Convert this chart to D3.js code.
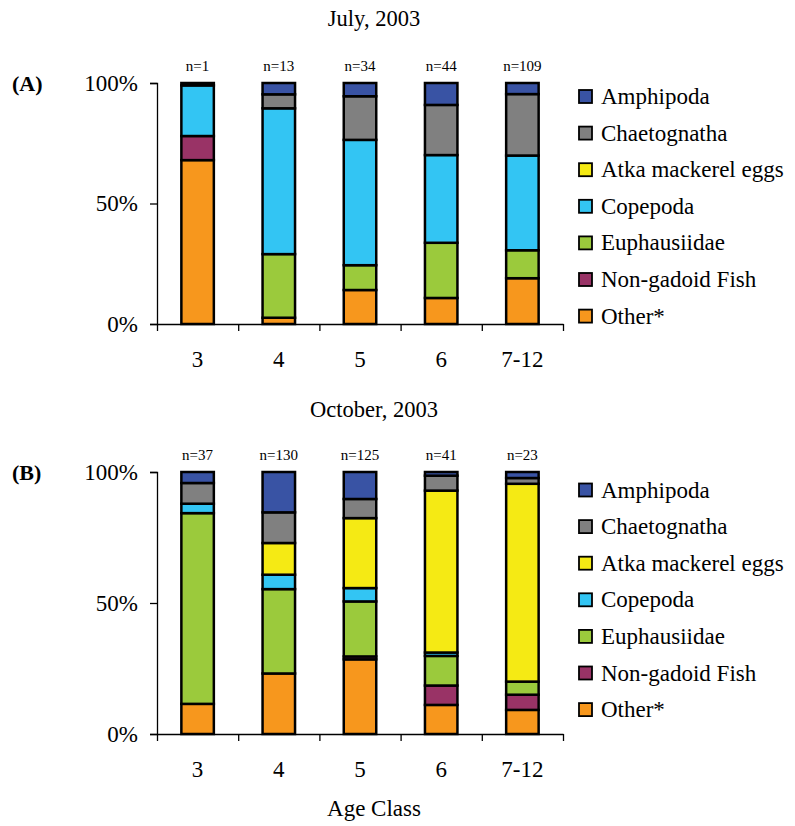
<!DOCTYPE html>
<html>
<head>
<meta charset="utf-8">
<script src="https://cdn.jsdelivr.net/npm/d3@7"></script>
<style>
  body { margin: 0; background: #fff; }
  svg text { font-family: "Liberation Serif", "Times New Roman", serif; fill: #000; }
</style>
</head>
<body>
<div id="chart"></div>
<script>
// age classes and sample sizes
const ageClasses = ["3", "4", "5", "6", "7-12"];
const julyN = [1, 13, 34, 44, 109];
const octN = [37, 130, 125, 41, 23];

// legend order (top to bottom); stacks are drawn in reverse (Other at bottom)
const taxa = ["Amphipoda", "Chaetognatha", "Atka mackerel eggs", "Copepoda", "Euphausiidae", "Non-gadoid Fish", "Other*"];
const taxaColors = ["#3953a4", "#808080", "#f5ea14", "#33c5f3", "#9bca3c", "#993366", "#f7971d"];

// July 2003, % of diet per age class
const julyOther = [68, 2.6, 14.1, 10.8, 19.0];
const julyFish = [10, 0, 0, 0, 0];
const julyEuph = [0, 26.4, 10.3, 22.9, 11.6];
const julyCope = [21, 60.5, 52, 36.4, 39.3];
const julyAtka = [0, 0, 0, 0, 0];
const julyChaeto = [0, 5.8, 18.1, 20.8, 25.5];
const julyAmph = [1, 4.7, 5.5, 9.1, 4.6];

// October 2003
const octOther = [11.5, 23.1, 28.5, 11.1, 9.2];
const octFish = [0, 0, 1.1, 7.4, 5.8];
const octEuph = [72.8, 32.2, 21, 11.3, 5];
const octCope = [3.6, 5.5, 5.1, 1.3, 0];
const octAtka = [0, 12.1, 26.7, 61.8, 75.5];
const octChaeto = [7.9, 11.7, 7.3, 5.7, 2.2];
const octAmph = [4.2, 15.4, 10.3, 1.4, 2.3];

const W = 795, H = 826;
const FONT = "Liberation Serif";
const svg = d3.select("#chart").append("svg")
  .attr("width", W)
  .attr("height", H);

const color = d3.scaleOrdinal().domain(taxa).range(taxaColors);

function buildRows(series) {
  // series given in legend order
  return ageClasses.map((a, i) => {
    const row = { age: a };
    taxa.forEach((t, j) => { row[t] = series[j][i]; });
    return row;
  });
}

function drawPanel(opts) {
  const left = 157, right = 563;
  const top = opts.top, bottom = opts.bottom;

  const g = svg.append("g");

  const x = d3.scaleBand()
    .domain(ageClasses)
    .range([left, right])
    .paddingInner(0.6)
    .paddingOuter(0.3);
  const xEdges = d3.scaleLinear().domain([0, ageClasses.length]).range([left, right]);
  const y = d3.scaleLinear().domain([0, 1]).range([bottom, top]);

  const rows = buildRows(opts.series);
  const stack = d3.stack()
    .keys(taxa.slice().reverse())
    .offset(d3.stackOffsetExpand);
  const layers = stack(rows);

  // bars
  layers.forEach(layer => {
    g.append("g")
      .selectAll("rect")
      .data(layer.filter(d => d[1] - d[0] > 0.0001))
      .join("rect")
      .attr("x", d => x(d.data.age))
      .attr("width", x.bandwidth())
      .attr("y", d => y(d[1]))
      .attr("height", d => y(d[0]) - y(d[1]))
      .attr("fill", color(layer.key))
      .attr("stroke", "#000")
      .attr("stroke-width", 2.5);
  });

  // y axis
  const yAxis = g.append("g")
    .attr("transform", `translate(${left},0)`)
    .call(d3.axisLeft(y).tickValues([0, 0.5, 1]).tickFormat(d3.format(".0%")).tickSize(7).tickPadding(12));
  yAxis.selectAll("text").attr("font-size", 23).attr("font-family", FONT).attr("fill", "#000");
  yAxis.selectAll("line, path").attr("stroke", "#000").attr("stroke-width", 1.3);

  // x axis with ticks between categories
  const xAxis = g.append("g")
    .attr("transform", `translate(0,${bottom})`)
    .call(d3.axisBottom(xEdges).tickValues(d3.range(ageClasses.length + 1)).tickFormat("").tickSize(7).tickSizeOuter(0));
  xAxis.selectAll("line, path").attr("stroke", "#000").attr("stroke-width", 1.3);

  const xLabels = g.append("g")
    .attr("transform", `translate(0,${bottom})`)
    .call(d3.axisBottom(x).tickSize(0).tickPadding(27));
  xLabels.select(".domain").remove();
  xLabels.selectAll("text").attr("font-size", 23).attr("font-family", FONT).attr("fill", "#000");

  // sample sizes
  g.append("g")
    .selectAll("text")
    .data(opts.n)
    .join("text")
    .attr("x", (d, i) => x(ageClasses[i]) + x.bandwidth() / 2)
    .attr("y", top - 12)
    .attr("text-anchor", "middle")
    .attr("font-family", FONT)
    .attr("font-size", 15)
    .text(d => "n=" + d);

  // title and panel letter
  g.append("text")
    .attr("x", 374)
    .attr("y", opts.titleY)
    .attr("text-anchor", "middle")
    .attr("font-family", FONT)
    .attr("font-size", 22.5)
    .text(opts.title);
  g.append("text")
    .attr("x", 12)
    .attr("y", top + 8)
    .attr("font-family", FONT)
    .attr("font-size", 22)
    .attr("font-weight", "bold")
    .text(opts.letter);

  // legend
  const leg = g.append("g")
    .selectAll("g")
    .data(taxa)
    .join("g")
    .attr("transform", (d, i) => `translate(579,${opts.legendY + i * 36.6})`);
  leg.append("rect")
    .attr("x", 0)
    .attr("y", -6.5)
    .attr("width", 13)
    .attr("height", 13)
    .attr("fill", d => color(d))
    .attr("stroke", "#000")
    .attr("stroke-width", 1.8);
  leg.append("text")
    .attr("x", 22)
    .attr("y", 7.5)
    .attr("font-family", FONT)
    .attr("font-size", 23)
    .text(d => d);
}

drawPanel({
  top: 83, bottom: 324, titleY: 26, letter: "(A)", title: "July, 2003",
  n: julyN, legendY: 96.5,
  series: [julyAmph, julyChaeto, julyAtka, julyCope, julyEuph, julyFish, julyOther]
});

drawPanel({
  top: 472, bottom: 734, titleY: 417, letter: "(B)", title: "October, 2003",
  n: octN, legendY: 490,
  series: [octAmph, octChaeto, octAtka, octCope, octEuph, octFish, octOther]
});

svg.append("text")
  .attr("x", 374)
  .attr("y", 816)
  .attr("text-anchor", "middle")
  .attr("font-family", FONT)
  .attr("font-size", 23)
  .text("Age Class");
</script>
</body>
</html>
